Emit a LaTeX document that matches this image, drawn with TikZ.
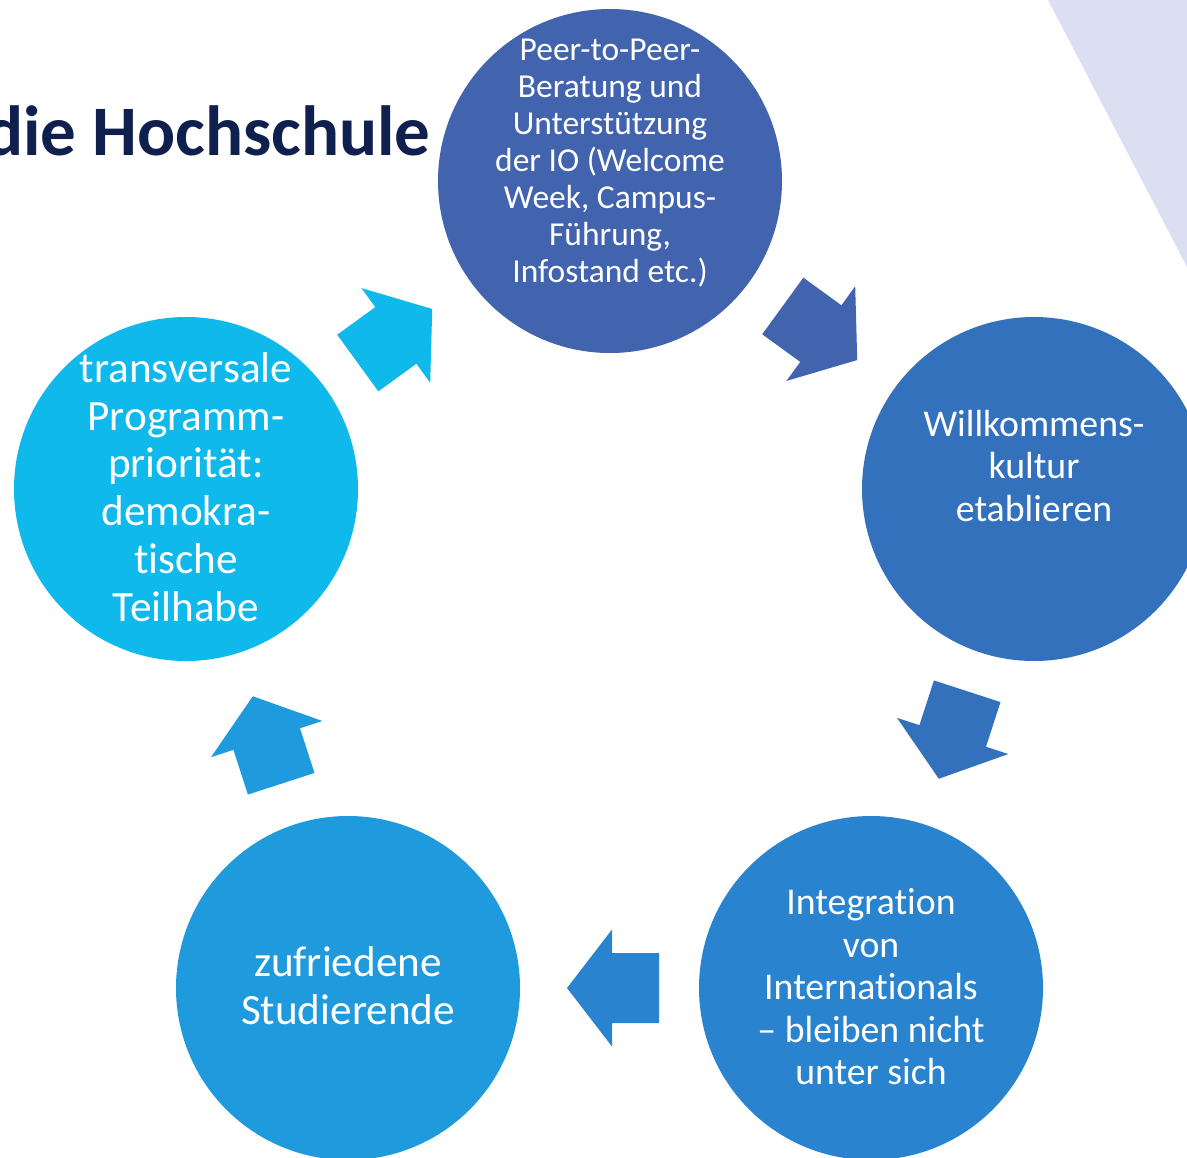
\documentclass[tikz,border=0pt]{standalone}
\usepackage{fontspec}
\setmainfont{Carlito}[Scale=1.08, Ligatures=NoCommon]
\newfontfamily\titlefont{Carlito}
\definecolor{cA}{HTML}{4263AD}
\definecolor{cB}{HTML}{3471BD}
\definecolor{cC}{HTML}{2A83CF}
\definecolor{cD}{HTML}{1E9ADD}
\definecolor{cE}{HTML}{0FB9EC}
\definecolor{navy}{HTML}{0F1F4E}
\definecolor{lav}{HTML}{DCDFF1}
\begin{document}
\begin{tikzpicture}[x=0.5pt,y=-0.5pt,
  circ/.style={circle, minimum size=172pt, inner sep=0pt, draw=none},
  txt/.style={text=white, align=center, inner sep=0pt},
  blockarrow/.pic={\fill (-46,-35) -- (1,-35) -- (1,-58.5) -- (46,0) -- (1,58.5) -- (1,35) -- (-46,35) -- cycle;}]
\useasboundingbox (0,0) rectangle (1187,1157);
\clip (0,0) rectangle (1187,1157);
\fill[lav] (1048,0) -- (1187,0) -- (1187,267) -- cycle;
\node[anchor=base east, inner sep=0pt, text=navy, font=\titlefont\fontsize{35.5pt}{40pt}\selectfont\bfseries] (title) at (431,155) {die Hochschule};
% circles
\node[circ, fill=cA] (n1) at (610,181) {};
\node[circ, fill=cB] (n2) at (1034,489) {};
\node[circ, fill=cC] (n3) at (871,988) {};
\node[circ, fill=cD] (n4) at (348,988) {};
\node[circ, fill=cE] (n5) at (186,489) {};
% texts
\node[txt, font=\fontsize{15.5pt}{18.5pt}\selectfont] (t1) at (610,163) {Peer-to-Peer-\\Beratung und\\Unterstützung\\der IO (Welcome\\Week, Campus-\\Führung,\\Infostand etc.)};
\node[txt, font=\fontsize{17.5pt}{21.25pt}\selectfont] (t2) at (1034,466) {Willkommens-\\kultur\\etablieren};
\node[txt, font=\fontsize{17.5pt}{21.25pt}\selectfont] (t3) at (871,987) {Integration\\von\\Internationals\\– bleiben nicht\\unter sich};
\node[txt, font=\fontsize{20pt}{24pt}\selectfont] (t4) at (348,986) {zufriedene\\Studierende};
\node[txt, font=\fontsize{20pt}{23.9pt}\selectfont] (t5) at (186,487) {transversale\\Programm-\\priorität:\\demokra-\\tische\\Teilhabe};
% arrows
\pic[fill=cA, rotate=-36] (ar1) at (820,333) {blockarrow};
\pic[fill=cB, rotate=-108] (ar2) at (953,735) {blockarrow};
\pic[fill=cC, rotate=180] (ar3) at (613,988) {blockarrow};
\pic[fill=cD, rotate=108] (ar4) at (267,740) {blockarrow};
\pic[fill=cE, rotate=36] (ar5) at (395,336) {blockarrow};
\end{tikzpicture}
\end{document}
